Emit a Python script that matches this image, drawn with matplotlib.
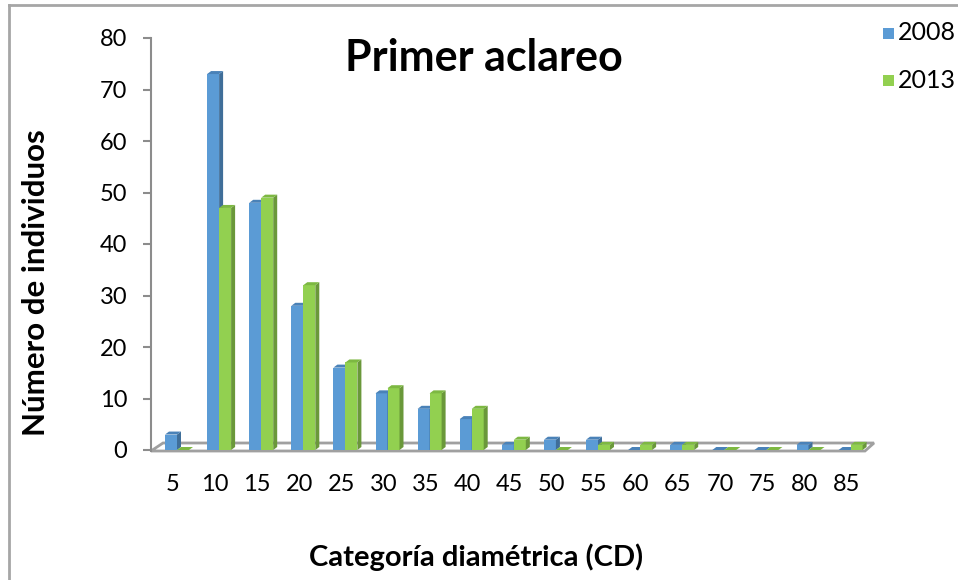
import matplotlib
matplotlib.use("Agg")
import matplotlib.pyplot as plt
from matplotlib.patches import Polygon
from matplotlib.lines import Line2D

plt.rcParams['font.family'] = ['Lato', 'DejaVu Sans']

# Diameter classes and tree counts per inventory year
categories = ["5", "10", "15", "20", "25", "30", "35", "40", "45",
              "50", "55", "60", "65", "70", "75", "80", "85"]
counts_2008 = [3, 73, 48, 28, 16, 11, 8, 6, 1, 2, 2, 0, 1, 0, 0, 1, 0]
counts_2013 = [0, 47, 49, 32, 17, 12, 11, 8, 2, 0, 1, 1, 1, 0, 0, 0, 1]
series_names = ["2008", "2013"]
y_ticks = [0, 10, 20, 30, 40, 50, 60, 70, 80]

W, H = 958, 580
fig = plt.figure(figsize=(W / 100, H / 100), dpi=100)

# axes placed in pixel terms
ax_left, ax_right, ax_top, ax_bottom = 151, 875, 38, 450
ax = fig.add_axes([ax_left / W, 1 - ax_bottom / H,
                   (ax_right - ax_left) / W, (ax_bottom - ax_top) / H])

px_per_cat = 42.1
first_join = 177  # pixel x where the two bars of the first class meet
ax.set_xlim(-(first_join - ax_left) / px_per_cat, (ax_right - first_join) / px_per_cat)
ax.set_ylim(0, 80)

bar_w = 12 / px_per_cat
depth_x = 4 / px_per_cat
depth_y = 3 / ((ax_bottom - ax_top) / 80)

styles = {
    "2008": dict(front="#5B9BD5", side="#3F6E99", top="#4A82B8"),
    "2013": dict(front="#92D050", side="#6A983A", top="#7DB842"),
}

# floor of the 3-D plot area
fx = lambda p: (p - first_join) / px_per_cat
fy = lambda p: (ax_bottom - p) / ((ax_bottom - ax_top) / 80)
floor = Polygon([(fx(151), fy(451)), (fx(163), fy(443)), (fx(874), fy(443)), (fx(865), fy(451))],
                closed=True, facecolor="white", edgecolor="#A0A0A0", lw=2,
                clip_on=False, zorder=1)
ax.add_patch(floor)

xs = list(range(len(categories)))
for s, (name, vals) in enumerate(zip(series_names, [counts_2008, counts_2013])):
    st = styles[name]
    lefts = [x - bar_w + s * bar_w for x in xs]
    ax.bar(lefts, vals, width=bar_w, align="edge", color=st["front"],
           edgecolor="none", zorder=3 + s, clip_on=False)
    for l, v in zip(lefts, vals):
        r = l + bar_w
        side = Polygon([(r, 0), (r + depth_x, depth_y), (r + depth_x, v + depth_y), (r, v)],
                       closed=True, facecolor=st["side"], edgecolor="none",
                       zorder=3 + s, clip_on=False)
        top = Polygon([(l, v), (l + depth_x, v + depth_y), (r + depth_x, v + depth_y), (r, v)],
                      closed=True, facecolor=st["top"], edgecolor="none",
                      zorder=3 + s, clip_on=False)
        ax.add_patch(side)
        ax.add_patch(top)

for sp in ["top", "right", "bottom"]:
    ax.spines[sp].set_visible(False)
ax.spines["left"].set_color("#8C8C8C")
ax.spines["left"].set_linewidth(1.5)
ax.spines["left"].set_bounds(-0.2, 80)
ax.set_yticks(y_ticks)
ax.set_yticklabels([str(t) for t in y_ticks], fontsize=17)
ax.tick_params(axis="y", length=6, width=1.5, color="#8C8C8C", pad=11)
ax.set_xticks([x - 0.1 for x in xs])
ax.set_xticklabels(categories, fontsize=17)
ax.tick_params(axis="x", length=0, pad=17)
ax.patch.set_visible(False)

fig.text(484 / W, 1 - 58 / H, "Primer aclareo", fontsize=31, fontweight="bold",
         ha="center", va="center")
fig.text(36 / W, 1 - 283 / H, "Número de individuos", fontsize=22.5, fontweight="bold",
         rotation=90, ha="center", va="center")
fig.text(476 / W, 1 - 557 / H, "Categoría diamétrica (CD)", fontsize=21, fontweight="bold",
         ha="center", va="center")

# legend
for i, name in enumerate(series_names):
    yc = 33 + i * 47
    fig.patches.append(plt.Rectangle((883 / W, 1 - (yc + 6) / H), 11 / W, 11 / H,
                                     transform=fig.transFigure,
                                     facecolor=styles[name]["front"], edgecolor="none"))
    fig.text(898 / W, 1 - yc / H, name, fontsize=18, ha="left", va="center")

# chart frame
fig.add_artist(Line2D([9 / W, 9 / W], [0, 1 - 5 / H], transform=fig.transFigure,
                      color="#A6A6A6", lw=2))
fig.add_artist(Line2D([9 / W, 1], [1 - 5 / H, 1 - 5 / H], transform=fig.transFigure,
                      color="#A6A6A6", lw=2))

fig.savefig("out.png", dpi=100)
